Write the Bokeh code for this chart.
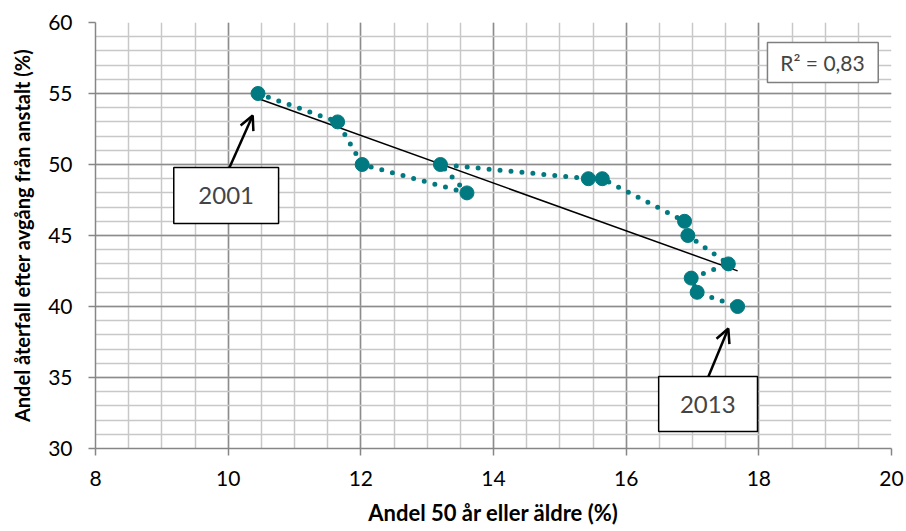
from bokeh.plotting import figure
from bokeh.models import (Range1d, SingleIntervalTicker, BoxAnnotation, Label,
                          Arrow, OpenHead)
from bokeh.embed import file_html
from bokeh.resources import INLINE
import numpy as np

# Data (2001 .. 2013)
years = [2001, 2002, 2003, 2004, 2005, 2006, 2007, 2008, 2009, 2010, 2011, 2012, 2013]
share_50_plus = [10.45, 11.65, 12.02, 13.6, 13.2, 15.43, 15.64, 16.88, 16.93, 17.54, 16.98, 17.07, 17.68]
recidivism = [55, 53, 50, 48, 50, 49, 49, 46, 45, 43, 42, 41, 40]

x_ticks_interval = 2
y_ticks_interval = 5
r2_text = "R\u00b2 = 0,83"

TEAL = "#007A80"
FONT = "Lato"

p = figure(width=906, height=531, output_backend="svg", toolbar_location=None,
           x_range=Range1d(8, 20), y_range=Range1d(30, 60),
           min_border_left=95, min_border_right=15, min_border_top=22, min_border_bottom=83)
p.background_fill_color = "white"
p.border_fill_color = "white"
p.outline_line_color = None

p.xaxis.ticker = SingleIntervalTicker(interval=x_ticks_interval, num_minor_ticks=4)
p.yaxis.ticker = SingleIntervalTicker(interval=y_ticks_interval, num_minor_ticks=5)

for ax in (p.xaxis[0], p.yaxis[0]):
    ax.axis_line_color = "#868686"
    ax.axis_line_width = 1.5
    ax.major_tick_line_color = "#868686"
    ax.major_tick_line_width = 1.5
    ax.major_tick_in = 0
    ax.minor_tick_out = 0
    ax.minor_tick_in = 0
    ax.major_label_text_font = FONT
    ax.major_label_text_font_size = "21px"
    ax.major_label_text_color = "black"
    ax.axis_label_text_font = FONT
    ax.axis_label_text_font_style = "bold"
    ax.axis_label_text_color = "black"

p.xaxis.major_tick_out = 7
p.xaxis.major_label_standoff = 15
p.xaxis.axis_label = "Andel 50 år eller äldre (%)"
p.xaxis.axis_label_text_font_size = "22px"
p.xaxis.axis_label_standoff = 10
p.yaxis.major_tick_out = 7
p.yaxis.major_label_standoff = 16
p.yaxis.axis_label = "Andel återfall efter avgång från anstalt (%)"
p.yaxis.axis_label_text_font_size = "20px"
p.yaxis.axis_label_standoff = 11

for g in (p.xgrid[0], p.ygrid[0]):
    g.grid_line_color = "#8c8c8c"
    g.grid_line_width = 1.5
    g.minor_grid_line_color = "#c8c8c8"
    g.minor_grid_line_width = 1.5

# Trend line (least squares)
xs = np.array(share_50_plus)
ys = np.array(recidivism)
k, m = np.polyfit(xs, ys, 1)
tx = [xs.min(), xs.max()]
p.line(tx, [k * t + m for t in tx], line_color="black", line_width=1.5)

# Dotted connection
p.line(share_50_plus, recidivism, line_color=TEAL, line_width=5, line_dash="0 11",
       line_cap="round")
p.scatter(share_50_plus, recidivism, marker="circle", size=14, fill_color=TEAL,
          line_color=TEAL, line_width=1)

# Annotation boxes
p.add_layout(BoxAnnotation(left=9.18, right=10.76, top=49.79, bottom=45.85,
                           fill_color="white", fill_alpha=1, line_color="black",
                           line_width=1.5, line_alpha=1))
p.add_layout(Label(x=9.97, y=47.82, text=str(years[0]), text_align="center",
                   text_baseline="middle", text_font=FONT, text_font_size="24px"))
p.add_layout(Arrow(x_start=10.02, y_start=49.79, x_end=10.37, y_end=53.45,
                   line_width=2.5, line_color="black",
                   end=OpenHead(size=14, line_width=2.5, line_color="black")))

p.add_layout(BoxAnnotation(left=16.49, right=17.98, top=35.07, bottom=31.2,
                           fill_color="white", fill_alpha=1, line_color="black",
                           line_width=1.5, line_alpha=1))
p.add_layout(Label(x=17.23, y=33.13, text=str(years[-1]), text_align="center",
                   text_baseline="middle", text_font=FONT, text_font_size="24px"))
p.add_layout(Arrow(x_start=17.24, y_start=35.07, x_end=17.54, y_end=38.45,
                   line_width=2.5, line_color="black",
                   end=OpenHead(size=14, line_width=2.5, line_color="black")))

p.add_layout(BoxAnnotation(left=18.13, right=19.80, top=58.59, bottom=55.77,
                           fill_color="white", fill_alpha=1, line_color="#7f7f7f",
                           line_width=1.5, line_alpha=1))
p.add_layout(Label(x=18.96, y=57.18, text=r2_text, text_align="center",
                   text_baseline="middle", text_font=FONT, text_font_size="21px"))

open("out.html", "w").write(file_html(p, INLINE))
